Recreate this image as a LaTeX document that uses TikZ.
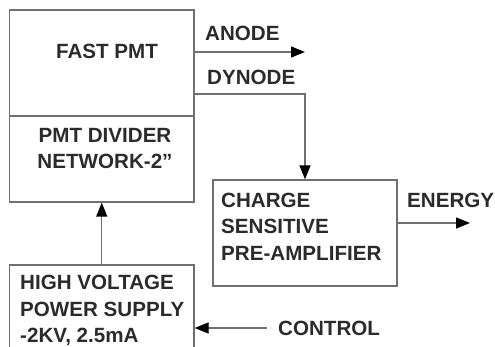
\documentclass[tikz,border=0pt]{standalone}
\usepackage{fontspec}
\setmainfont{Liberation Sans}
\usetikzlibrary{arrows.meta}
\definecolor{txt}{HTML}{2B2B2B}
\definecolor{ln}{HTML}{707070}
\begin{document}
\begin{tikzpicture}[x=1pt,y=-1pt,
  box/.style={draw=ln,line width=1.3pt,rectangle,inner sep=0pt},
  lbl/.style={text=txt,font=\fontsize{20.6}{26.5}\selectfont\bfseries,inner sep=0pt},
  conn/.style={draw=ln,line width=1.3pt},
  arr/.style={conn,-{Triangle[length=14pt,width=11pt,color=black,fill=black]}}]
\useasboundingbox (0,0) rectangle (495,347);
\clip (0,0) rectangle (495,347);
% boxes
\node[box,minimum width=184.5pt,minimum height=106pt] (pmt) at (101.75,63) {};
\node[box,minimum width=184.5pt,minimum height=86pt] (div) at (101.75,159) {};
\node[box,minimum width=184pt,minimum height=106pt] (csa) at (305,233) {};
\node[box,minimum width=184.5pt,minimum height=100pt] (hv) at (101.75,315) {};
% texts
\node[lbl] (tpmt) at (107,51) {FAST PMT};
\node[lbl,align=center] (tdiv) at (105,148.5) {PMT DIVIDER\\NETWORK-2”};
\node[lbl,align=left,anchor=west] (tcsa) at (221,226.5) {CHARGE\\SENSITIVE\\PRE-AMPLIFIER};
\node[lbl,align=left,anchor=west] (thv) at (20,310.5) {HIGH VOLTAGE\\POWER SUPPLY\\-2KV, 2.5mA};
\node[lbl,anchor=west] (tanode) at (205,33) {ANODE};
\node[lbl,anchor=west] (tdynode) at (207,77) {DYNODE};
\node[lbl,anchor=west] (tenergy) at (407,200) {ENERGY};
\node[lbl,anchor=west] (tcontrol) at (278,328) {CONTROL};
% coordinates
\coordinate (aend) at (305,52);
\coordinate (dyn) at (0,94);
\coordinate (eend) at (470,223);
\coordinate (cstart) at (267,328);
% connectors
\draw[arr] (pmt.east |- aend) -- (aend);
\draw[arr] (pmt.east |- dyn) -| (csa.north);
\draw[arr] (csa.east |- eend) -- (eend);
\draw[arr] (hv.north) -- (div.south);
\draw[arr] (cstart) -- (hv.east |- cstart);
\end{tikzpicture}
\end{document}
